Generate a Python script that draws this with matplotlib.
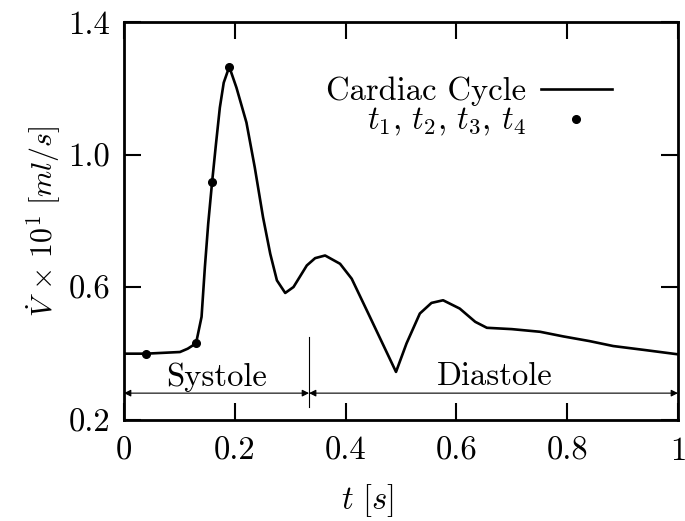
import matplotlib
matplotlib.use("Agg")
import matplotlib.pyplot as plt

plt.rcParams["font.family"] = "serif"
plt.rcParams["font.serif"] = ["cmr10"]
plt.rcParams["mathtext.fontset"] = "cm"
plt.rcParams["axes.formatter.use_mathtext"] = True
plt.rcParams["font.size"] = 23.5

# cardiac cycle flow curve
t = [0.0, 0.04, 0.101, 0.115, 0.130, 0.140, 0.146, 0.152, 0.159, 0.166, 0.173,
     0.180, 0.190, 0.203, 0.221, 0.236, 0.251, 0.264, 0.276, 0.291, 0.306, 0.330,
     0.345, 0.363, 0.390, 0.411, 0.441, 0.468, 0.491, 0.510, 0.534, 0.555, 0.576,
     0.606, 0.634, 0.655, 0.700, 0.751, 0.793, 0.840, 0.883, 0.940, 1.0]
v = [0.40, 0.40, 0.405, 0.415, 0.431, 0.511, 0.661, 0.792, 0.917, 1.032, 1.142,
     1.217, 1.265, 1.202, 1.097, 0.962, 0.811, 0.701, 0.621, 0.583, 0.601, 0.666,
     0.688, 0.696, 0.671, 0.626, 0.521, 0.426, 0.345, 0.431, 0.521, 0.553, 0.561,
     0.536, 0.496, 0.478, 0.474, 0.466, 0.452, 0.438, 0.423, 0.411, 0.398]

# sample instants t1..t4
t_pts = [0.04, 0.130, 0.159, 0.190]
v_pts = [0.40, 0.431, 0.917, 1.265]

t_split = 0.334  # end of systole
xticks = [0, 0.2, 0.4, 0.6, 0.8, 1]
xticklabels = ["0", "0.2", "0.4", "0.6", "0.8", "1"]
yticks = [0.2, 0.6, 1.0, 1.4]
yticklabels = ["0.2", "0.6", "1.0", "1.4"]

fig = plt.figure(figsize=(6.85, 5.21), dpi=100)
ax = fig.add_axes([124 / 685, 1 - 420 / 521, 554 / 685, 398 / 521])

ax.plot(t, v, color="black", lw=1.9, label="Cardiac Cycle")
ax.plot(t_pts, v_pts, "o", color="black", ms=5.5, lw=0,
        label=r"$t_1,\, t_2,\, t_3,\, t_4$")

ax.set_xlim(0, 1)
ax.set_ylim(0.2, 1.4)
ax.set_xticks(xticks)
ax.set_xticklabels(xticklabels)
ax.set_yticks(yticks)
ax.set_yticklabels(yticklabels)
ax.tick_params(direction="in", length=12, width=1.5, top=True, right=True)
ax.tick_params(axis="x", pad=12)
ax.tick_params(axis="y", pad=10)
for s in ax.spines.values():
    s.set_linewidth(2)

# systole / diastole markers
ax.plot([t_split, t_split], [0.239, 0.449], color="black", lw=0.8)
arr = dict(arrowstyle="<|-|>", color="black", lw=0.8, mutation_scale=10,
           shrinkA=0, shrinkB=0)
ax.annotate("", xy=(0, 0.281), xytext=(t_split, 0.281), arrowprops=arr)
ax.annotate("", xy=(t_split, 0.281), xytext=(1, 0.281), arrowprops=arr)
ax.text(0.167, 0.33, "Systole", ha="center", va="center")
ax.text(0.67, 0.33, "Diastole", ha="center", va="center")

ax.set_xlabel(r"$t\ [s]$")
ax.xaxis.set_label_coords(0.44, -0.155)
ax.set_ylabel(r"$\dot{V}\,\times\,10^1\ [ml/s]$", fontsize=21.5)
ax.yaxis.set_label_coords(-0.11, 0.5)

ax.legend(loc="upper right", bbox_to_anchor=(0.905, 0.895), frameon=False,
          markerfirst=False, handlelength=2.2, handletextpad=0.45,
          labelspacing=0.0, borderaxespad=0)

fig.savefig("out.png", dpi=100)
